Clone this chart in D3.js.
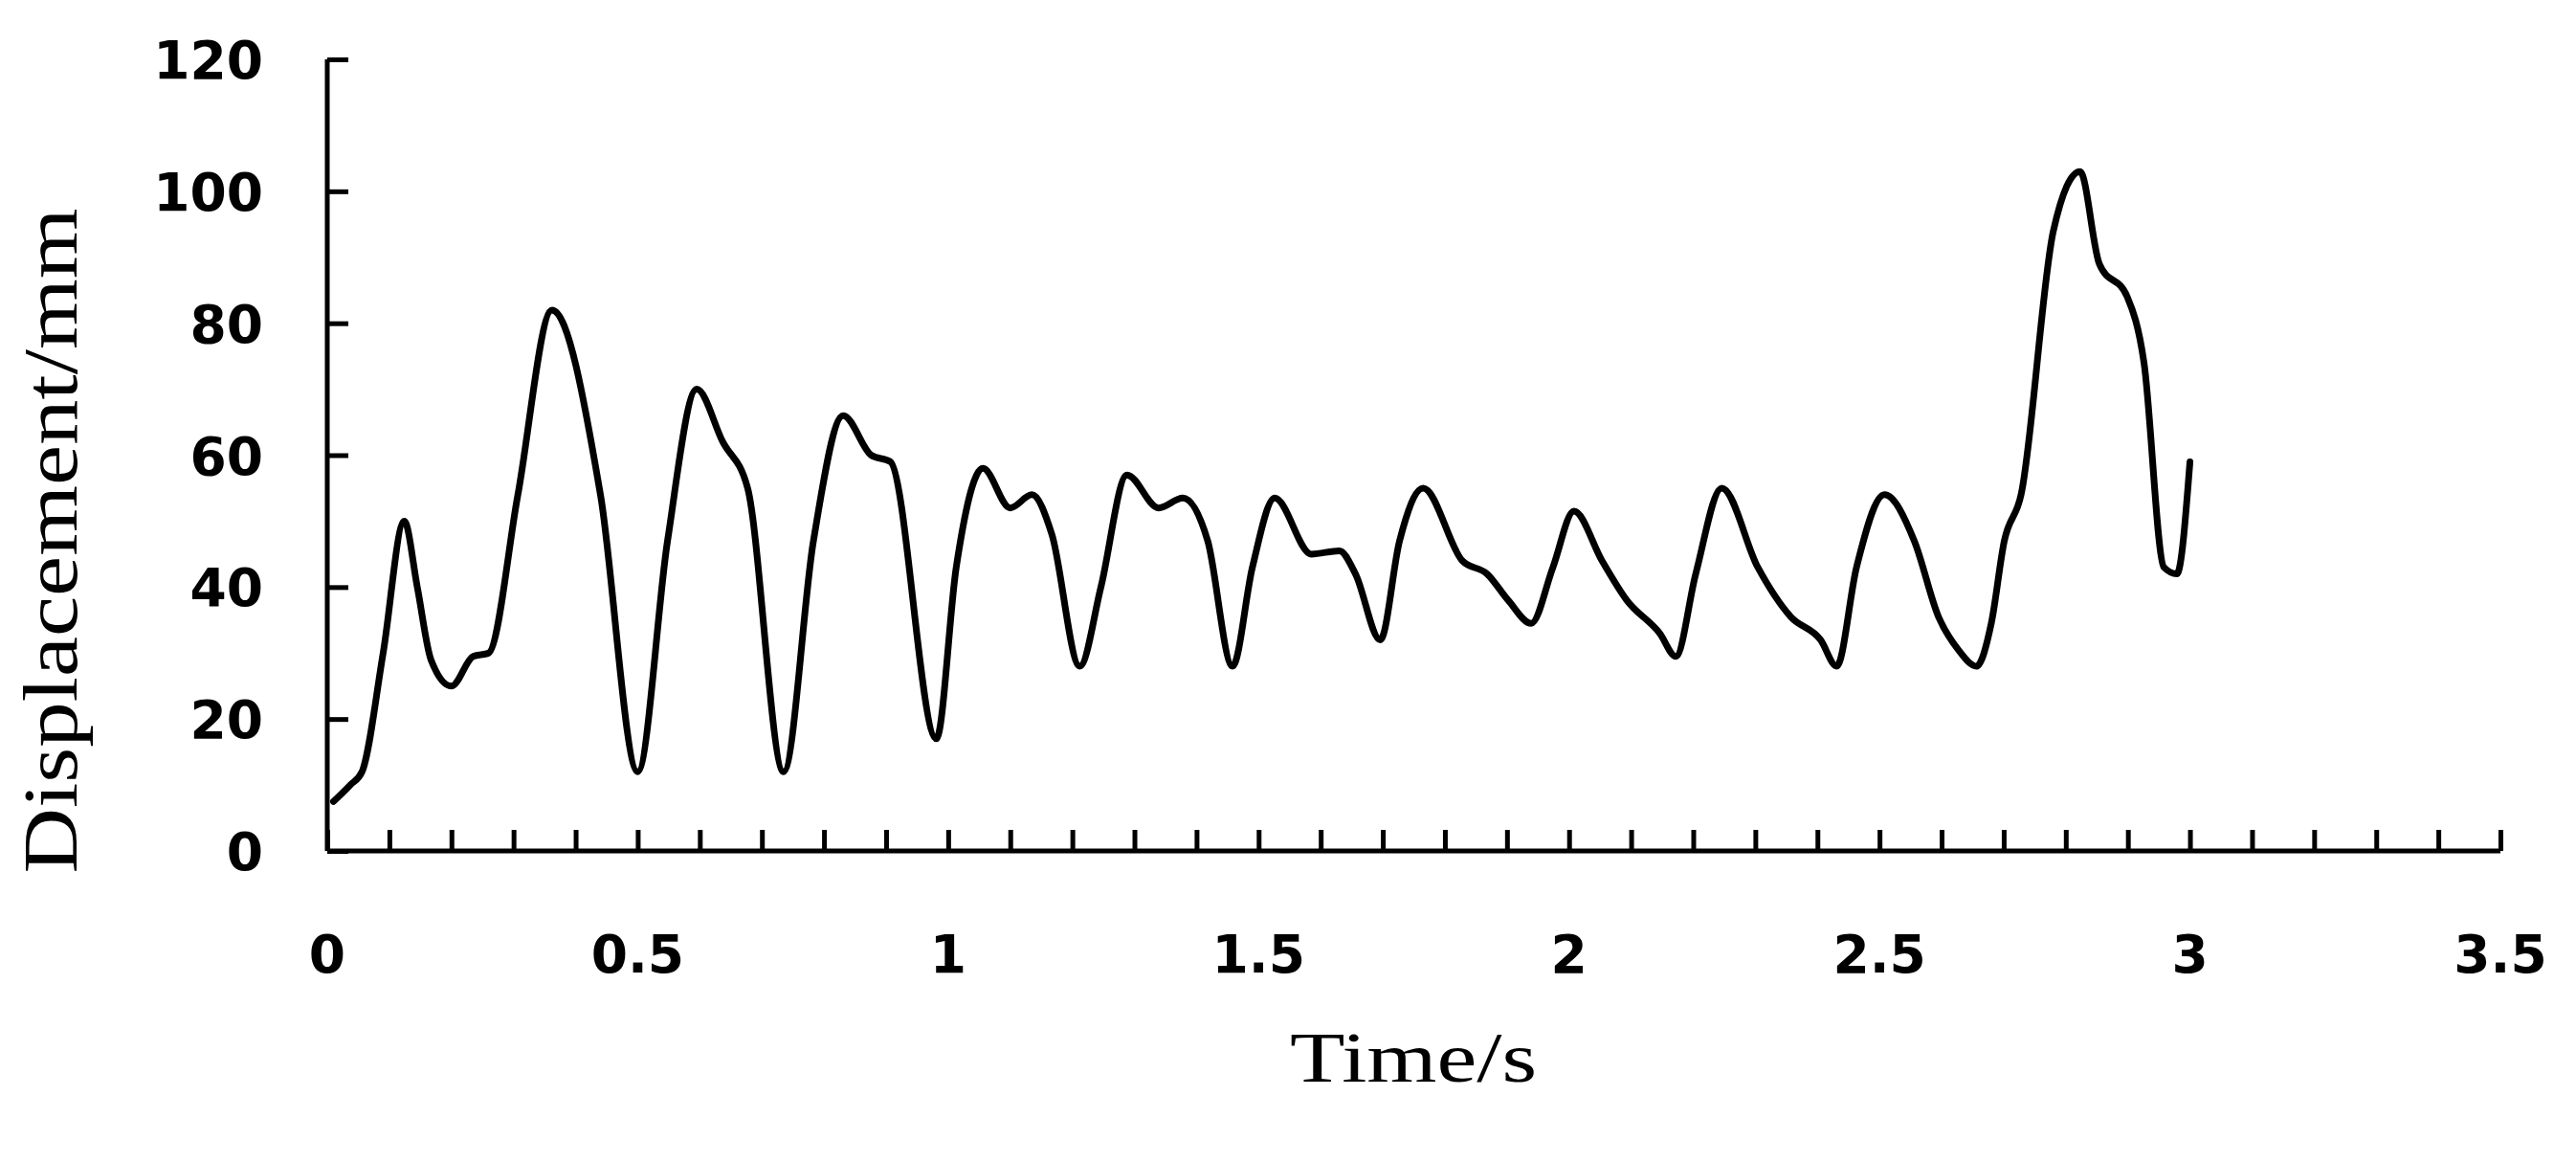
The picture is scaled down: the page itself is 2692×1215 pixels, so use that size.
<!DOCTYPE html>
<html><head><meta charset="utf-8">
<script src="https://cdn.jsdelivr.net/npm/d3@7"></script>
<style>body{margin:0;background:#fff}</style>
</head><body><div id="chart"></div>
<script>
// Zeitpunkte (s) und Verschiebung (mm)
const zeit = [0.01,0.037,0.056,0.09,0.124,0.145,0.167,0.2,0.235,0.26,0.307,0.362,0.44,0.50,0.548,0.595,0.637,0.677,0.735,0.783,0.831,0.876,0.907,0.981,1.013,1.056,1.1,1.135,1.167,1.212,1.246,1.288,1.339,1.378,1.418,1.458,1.49,1.526,1.585,1.63,1.656,1.696,1.727,1.765,1.828,1.868,1.902,1.939,1.974,2.008,2.053,2.093,2.146,2.172,2.204,2.246,2.304,2.357,2.405,2.431,2.463,2.508,2.556,2.595,2.627,2.656,2.68,2.701,2.728,2.78,2.823,2.854,2.899,2.926,2.958,2.979,3.0];
const weg = [7.5,10,12,30,50,40,29,25,29.5,30,54,82,54,12,47,70,62,55,12,47,66,60,59,17,43,58,52,54,48,28,40,57,52,53.5,47,28,43,53.5,45,45.5,42,32,47,55,44,42,38,34.5,43,51.5,44,38,33,29.5,42,55,43,35.5,32,28,43,54,47,35.5,30.5,28,34.5,47,54,94,103,89,84,74,43,42,59];
const xTicks = [0,0.5,1,1.5,2,2.5,3,3.5];
const yTicks = [0,20,40,60,80,100,120];

const breite = 2692, hoehe = 1215;
const margin = { left: 342, right: 79, top: 62, bottom: 326 };
const width = breite - margin.left - margin.right, height = hoehe - margin.top - margin.bottom;

const svg = d3.select("#chart").append("svg")
    .attr("width", breite).attr("height", hoehe);
const g = svg.append("g").attr("transform", "translate(" + margin.left + "," + margin.top + ")");

const x = d3.scaleLinear().domain([0, 3.5]).range([0, width]);
const y = d3.scaleLinear().domain([0, 120]).range([height, 0]);

// x-Achse: kleine Striche nach oben alle 0.1
const xAxis = g.append("g").attr("transform", "translate(0," + height + ")")
    .call(d3.axisBottom(x).tickValues(d3.range(0, 36).map(i => i / 10)).tickSize(-22).tickFormat(""));
xAxis.selectAll("line,path").attr("stroke", "#000").attr("stroke-width", 5);
xAxis.select("path").attr("d", "M0,0H" + width);
g.append("g").selectAll("text").data(xTicks).enter().append("text")
    .attr("x", d => x(d)).attr("y", height + 127)
    .attr("text-anchor", "middle")
    .style("font", "bold 55px 'DejaVu Sans'")
    .text(d => d);

const yAxis = g.append("g")
    .call(d3.axisLeft(y).tickValues(yTicks).tickSize(-22).tickFormat(""));
yAxis.selectAll("line,path").attr("stroke", "#000").attr("stroke-width", 5);
yAxis.select("path").attr("d", "M0,0V" + height);
g.append("g").selectAll("text").data(yTicks).enter().append("text")
    .attr("x", -67).attr("y", d => y(d) + 20)
    .attr("text-anchor", "end")
    .style("font", "bold 55px 'DejaVu Sans'")
    .text(d => d);

const linie = d3.line()
    .x((d, i) => x(zeit[i]))
    .y(d => y(d))
    .curve(d3.curveMonotoneX);
g.append("path").datum(weg)
    .attr("d", linie)
    .attr("fill", "none").attr("stroke", "#000").attr("stroke-width", 7)
    .attr("stroke-linejoin", "round").attr("stroke-linecap", "round");

svg.append("text").attr("x", 1477).attr("y", 1130)
    .attr("text-anchor", "middle")
    .attr("textLength", 258).attr("lengthAdjust", "spacingAndGlyphs")
    .style("font", "75px 'Liberation Serif'")
    .text("Time/s");
svg.append("text")
    .attr("transform", "translate(80,565) rotate(-90)")
    .attr("text-anchor", "middle")
    .attr("textLength", 695).attr("lengthAdjust", "spacingAndGlyphs")
    .style("font", "80px 'Liberation Serif'")
    .text("Displacement/mm");
</script></body></html>
